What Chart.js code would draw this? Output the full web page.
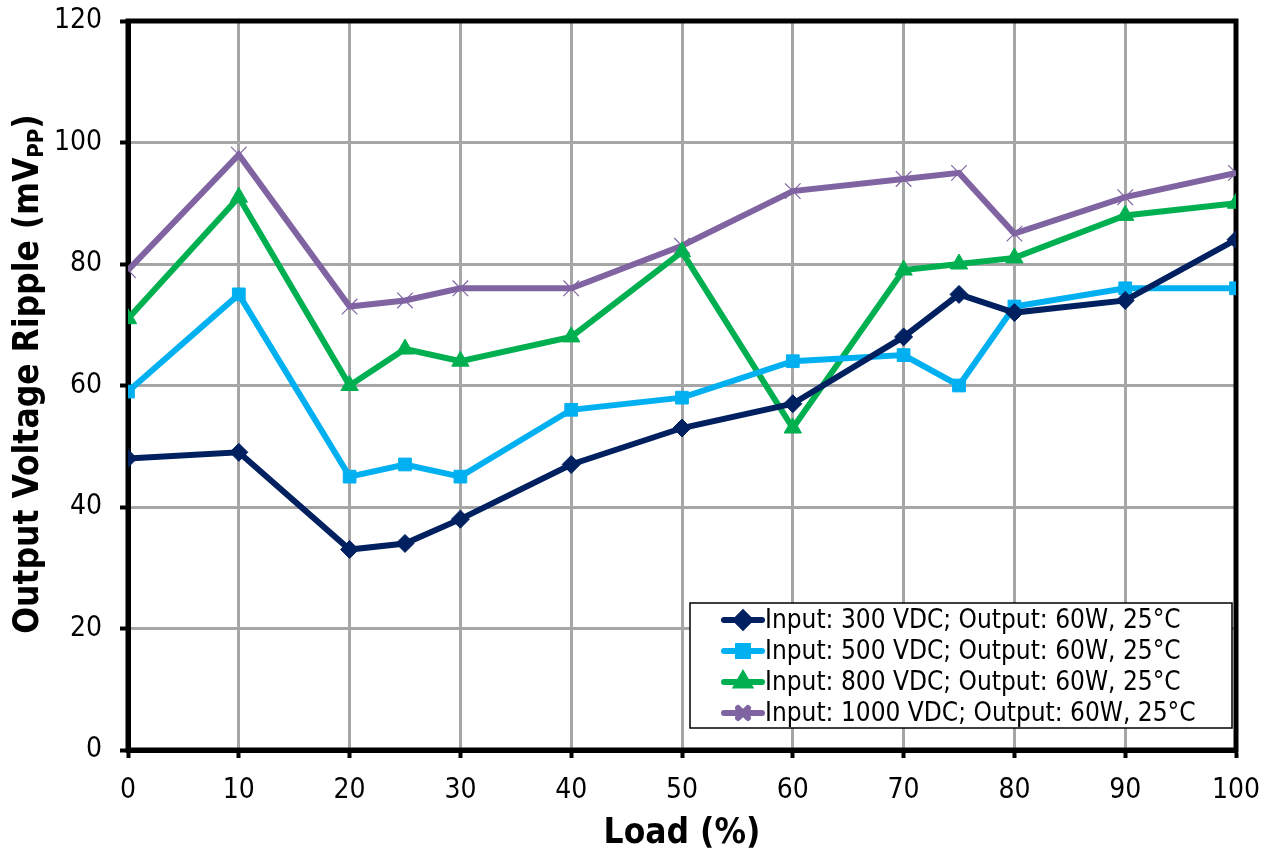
<!DOCTYPE html>
<html>
<head>
<meta charset="utf-8">
<script src="https://cdn.jsdelivr.net/npm/chart.js@4.4.1/dist/chart.umd.min.js"></script>
<style>
  html, body { margin: 0; padding: 0; background: #fff; }
  #wrap { position: relative; width: 1268px; height: 857px; }
</style>
</head>
<body>
<div id="wrap"><canvas id="ripple" width="1268" height="857"></canvas></div>
<script>
const loads = [0, 10, 20, 25, 30, 40, 50, 60, 70, 75, 80, 90, 100];
const in300 = [48, 49, 33, 34, 38, 47, 53, 57, 68, 75, 72, 74, 84];
const in500 = [59, 75, 45, 47, 45, 56, 58, 64, 65, 60, 73, 76, 76];
const in800 = [71, 91, 60, 66, 64, 68, 82, 53, 79, 80, 81, 88, 90];
const in1000 = [79, 98, 73, 74, 76, 76, 83, 92, 94, 95, 85, 91, 95];
const seriesLabels = [
  'Input: 300 VDC; Output: 60W, 25°C',
  'Input: 500 VDC; Output: 60W, 25°C',
  'Input: 800 VDC; Output: 60W, 25°C',
  'Input: 1000 VDC; Output: 60W, 25°C'
];
const xTicks = [0, 10, 20, 30, 40, 50, 60, 70, 80, 90, 100];
const yTicks = [0, 20, 40, 60, 80, 100, 120];

const FONT = "'DejaVu Sans Condensed', 'DejaVu Sans', sans-serif";
const pts = arr => arr.map((v, i) => ({ x: loads[i], y: v }));

function series(label, data, color, style, radius, bw) {
  return {
    label, data: pts(data), borderColor: color, backgroundColor: color,
    borderWidth: 6, pointStyle: style, pointRadius: radius, pointBorderWidth: bw,
    pointBorderColor: color, pointBackgroundColor: color, tension: 0
  };
}

// frame round the plot area (top/right edges)
const frame = {
  id: 'frame',
  beforeDatasetsDraw(chart) {
    const { ctx, chartArea: a } = chart;
    ctx.save();
    ctx.strokeStyle = '#000';
    ctx.lineWidth = 5;
    ctx.strokeRect(a.left, a.top, a.right - a.left, a.bottom - a.top);
    ctx.restore();
  }
};

// y title with subscript
const yTitle = {
  id: 'yTitle',
  afterDraw(chart) {
    const { ctx } = chart;
    const main = 'Output Voltage Ripple (mV';
    const sub = 'PP';
    const tail = ')';
    ctx.save();
    ctx.translate(29, 374);
    ctx.rotate(-Math.PI / 2);
    ctx.fillStyle = '#000';
    ctx.textBaseline = 'middle';
    ctx.font = 'bold 35px ' + FONT;
    const w1 = ctx.measureText(main).width;
    const w3 = ctx.measureText(tail).width;
    ctx.font = 'bold 22px ' + FONT;
    const w2 = ctx.measureText(sub).width;
    let x = -(w1 + w2 + w3) / 2;
    ctx.font = 'bold 35px ' + FONT;
    ctx.fillText(main, x, 0);
    x += w1;
    ctx.font = 'bold 22px ' + FONT;
    ctx.fillText(sub, x, 8);
    x += w2;
    ctx.font = 'bold 35px ' + FONT;
    ctx.fillText(tail, x, 0);
    ctx.restore();
  }
};

// legend box inside plot
const boxLegend = {
  id: 'boxLegend',
  afterDatasetsDraw(chart) {
    const { ctx } = chart;
    const bx = 690, by = 603, bw = 542, bh = 125;
    ctx.save();
    ctx.fillStyle = '#fff';
    ctx.fillRect(bx, by, bw, bh);
    ctx.strokeStyle = '#000';
    ctx.lineWidth = 1.5;
    ctx.strokeRect(bx, by, bw, bh);
    ctx.font = '26px ' + FONT;
    ctx.textBaseline = 'middle';
    chart.data.datasets.forEach((ds, i) => {
      const cy = by + 17 + i * 31;
      ctx.strokeStyle = ds.borderColor;
      ctx.lineWidth = 6;
      ctx.lineCap = 'round';
      ctx.beginPath();
      ctx.moveTo(724, cy);
      ctx.lineTo(762, cy);
      ctx.stroke();
      ctx.fillStyle = ds.borderColor;
      Chart.helpers.drawPoint(ctx, {
        pointStyle: ds.pointStyle, radius: Math.min(ds.pointRadius, 7), rotation: 0,
        borderWidth: ds.pointBorderWidth
      }, 743, cy);
      ctx.fillStyle = '#000';
      ctx.fillText(ds.label, 765, cy + 1);
    });
    ctx.restore();
  }
};

new Chart(document.getElementById('ripple'), {
  type: 'line',
  data: {
    datasets: [
      series(seriesLabels[0], in300, '#002060', 'rectRot', 9, 1),
      series(seriesLabels[1], in500, '#00b0f0', 'rect', 9, 1),
      series(seriesLabels[2], in800, '#00b050', 'triangle', 10, 1),
      series(seriesLabels[3], in1000, '#8064a2', 'crossRot', 11, 1.2)
    ]
  },
  options: {
    responsive: false,
    animation: false,
    devicePixelRatio: 1,
    layout: { padding: { top: 21, right: 32, left: 0, bottom: 0 } },
    plugins: { legend: { display: false }, tooltip: { enabled: false } },
    scales: {
      x: {
        type: 'linear', min: 0, max: 100,
        afterBuildTicks: s => { s.ticks = xTicks.map(v => ({ value: v })); },
        afterFit: s => { s.height = 107; s.paddingLeft = 0; s.paddingRight = 0; },
        grid: { color: '#a6a6a6', lineWidth: 3, tickColor: '#000', tickWidth: 4, tickLength: 8 },
        border: { color: '#000', width: 5 },
        ticks: { color: '#000', font: { family: FONT, size: 28 }, padding: 16, maxRotation: 0 },
        title: { display: true, text: 'Load (%)', color: '#000', font: { family: FONT, size: 35, weight: 'bold' }, padding: { top: 0, bottom: 2 } }
      },
      y: {
        min: 0, max: 120,
        afterBuildTicks: s => { s.ticks = yTicks.map(v => ({ value: v })); },
        afterFit: s => { s.width = 128; s.paddingTop = 0; s.paddingBottom = 0; },
        grid: { color: '#a6a6a6', lineWidth: 3, tickColor: '#000', tickWidth: 4, tickLength: 8 },
        border: { color: '#000', width: 5 },
        ticks: { color: '#000', font: { family: FONT, size: 28 }, padding: 18 }
      }
    }
  },
  plugins: [frame, yTitle, boxLegend]
});
</script>
</body>
</html>
